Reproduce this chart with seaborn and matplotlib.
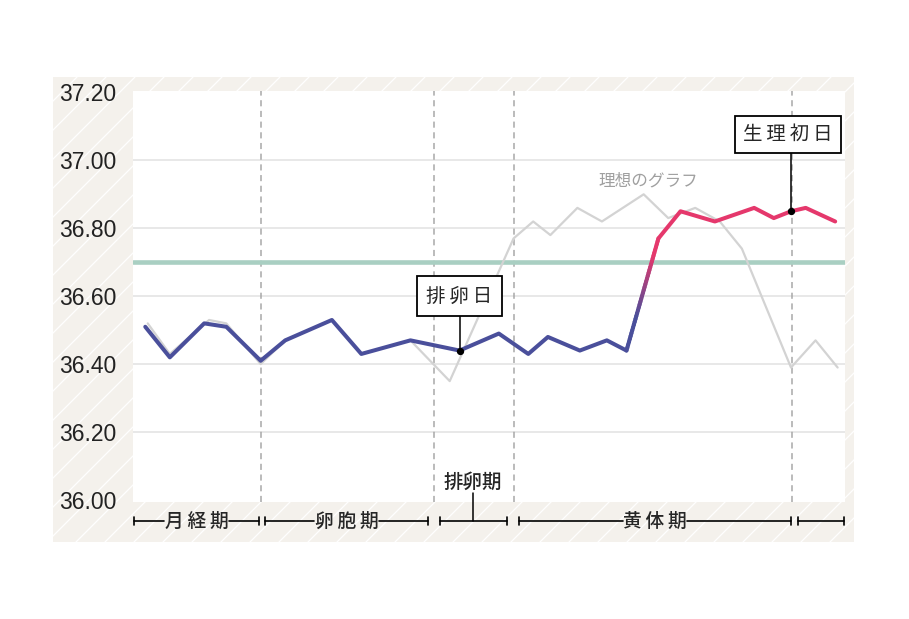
import numpy as np
import pandas as pd
import matplotlib
matplotlib.use("Agg")
import matplotlib.pyplot as plt
import seaborn as sns
from matplotlib.collections import LineCollection
from matplotlib.colors import LinearSegmentedColormap
from matplotlib.patches import Rectangle
from matplotlib.lines import Line2D

# measured basal body temperature (cycle day, deg C)
days = [1.0, 2.0, 3.4, 4.3, 5.7, 6.7, 8.6, 9.8, 11.8, 13.8, 15.4, 16.6, 17.4, 18.7, 19.8, 20.6,
        21.9, 22.8, 24.2, 25.8, 26.6, 27.3, 27.9, 29.1]
temps = [36.51, 36.42, 36.52, 36.51, 36.41, 36.47, 36.53, 36.43, 36.47, 36.44, 36.49, 36.43,
         36.48, 36.44, 36.47, 36.44, 36.77, 36.85, 36.82, 36.86, 36.83, 36.85, 36.86, 36.82]
n_low = 16          # points in the low temperature phase
ovulation_idx = 9   # 排卵日
period_idx = 21     # 生理初日

# ideal curve (理想のグラフ)
ideal_days = [1.1, 2.0, 3.6, 4.3, 5.7, 6.7, 8.6, 9.8, 11.8, 13.4, 16.0, 16.8, 17.5, 18.6, 19.6,
              21.3, 22.3, 23.4, 24.4, 25.3, 27.3, 28.3, 29.2]
ideal_temps = [36.52, 36.43, 36.53, 36.52, 36.40, 36.47, 36.53, 36.43, 36.47, 36.35, 36.77, 36.82,
               36.78, 36.86, 36.82, 36.90, 36.83, 36.86, 36.82, 36.74, 36.39, 36.47, 36.39]

border_temp = 36.70
yticks = [36.00, 36.20, 36.40, 36.60, 36.80, 37.00, 37.20]
phase_bounds = [5.7, 12.75, 16.0, 27.35]
phase_names = ['月\u2009経\u2009期', '卵\u2009胞\u2009期', '排卵期', '黄\u2009体\u2009期', '']
phase_spans = [(0.56, 5.62), (5.88, 12.52), (12.99, 15.73), (16.22, 27.30), (27.58, 29.47)]

blue = '#4a4f9b'
pink = '#e5386c'

sns.set_style("white")
plt.rcParams['font.family'] = ['Liberation Sans', 'DejaVu Sans']
jp = ['Noto Sans CJK JP', 'DejaVu Sans']

W, H = 909, 619
fig = plt.figure(figsize=(W / 100, H / 100), dpi=100)
fig.patch.set_facecolor('white')
ax = fig.add_axes([133 / W, 1 - 501.7 / H, 712 / W, 411 / H])
ax.set_facecolor('white')

# beige panel with thin diagonal stripes
panel = Rectangle((53 / W, 1 - 542 / H), 801 / W, 465 / H, transform=fig.transFigure,
                  facecolor='#f4f1ec', edgecolor='none', zorder=-2)
fig.add_artist(panel)
for off in np.arange(-470, 810, 29):
    x0 = 53 + off
    ln = Line2D([x0 / W, (x0 + 465) / W], [1 - 542 / H, 1 - 77 / H], transform=fig.transFigure,
                color='white', lw=0.9, zorder=-1)
    ln.set_clip_path(panel)
    fig.add_artist(ln)

ax.set_xlim(0.5, 29.5)
ax.set_ylim(35.995, 37.205)

for t in yticks[1:-1]:
    ax.axhline(t, color='#e4e4e4', lw=1.2, zorder=0)
for b in phase_bounds:
    ax.axvline(b, color='#a8a8a8', lw=1.1, ls=(0, (4, 3)), zorder=1)
ax.axhline(border_temp, color='#a9cfc2', lw=3.3, zorder=2)

ideal = pd.DataFrame({'day': ideal_days, 'temp': ideal_temps})
sns.lineplot(data=ideal, x='day', y='temp', color='#d3d3d3', lw=1.6, ax=ax, zorder=3)

bbt = pd.DataFrame({'day': days, 'temp': temps})
low = bbt.iloc[:n_low]
high = bbt.iloc[n_low:]
sns.lineplot(data=low, x='day', y='temp', color=blue, lw=2.9, ax=ax, zorder=4,
             solid_joinstyle='round', solid_capstyle='round')
sns.lineplot(data=high, x='day', y='temp', color=pink, lw=2.9, ax=ax, zorder=4,
             solid_joinstyle='round', solid_capstyle='round')

# colour gradient on the jump between the two phases
x0, y0 = days[n_low - 1], temps[n_low - 1]
x1, y1 = days[n_low], temps[n_low]
fr = np.linspace(0, 1, 40)
px = x0 + (x1 - x0) * fr
py = y0 + (y1 - y0) * fr
segs = np.stack([np.column_stack([px[:-1], py[:-1]]), np.column_stack([px[1:], py[1:]])], axis=1)
cmap = LinearSegmentedColormap.from_list('bp', [(0, blue), (0.3, blue), (0.85, pink), (1, pink)])
lc = LineCollection(segs, colors=cmap(fr[:-1]), lw=2.9, capstyle='round', zorder=4)
ax.add_collection(lc)

# callouts
box = dict(boxstyle='square,pad=0.5', fc='white', ec='black', lw=1.3)
ox, oy = days[ovulation_idx], temps[ovulation_idx]
ax.plot([ox, ox], [oy, 36.60], color='black', lw=1.1, zorder=5)
ax.scatter([ox], [oy], s=18, color='black', zorder=6)
ax.text(ox, 36.60, '排\u2009卵\u2009日', ha='center', va='center', fontsize=14, family=jp,
        bbox=box, zorder=7)

qx, qy = days[period_idx], temps[period_idx]
ax.plot([qx, qx], [qy, 37.07], color='black', lw=1.1, zorder=5)
ax.scatter([qx], [qy], s=18, color='black', zorder=6)
ax.text(qx - 0.12, 37.076, '生\u2009理\u2009初\u2009日', ha='center', va='center', fontsize=14,
        family=jp, bbox=dict(box, boxstyle='square,pad=0.42'), zorder=7)

ax.text(21.5, 36.94, '理想のグラフ', ha='center', va='center', fontsize=12, color='#a0a0a0',
        family=jp, zorder=5)

# phase brackets under the plot
trans = ax.get_xaxis_transform()
yb, tk, gap = -0.047, 0.009, 1.32
for (s, e), name in zip(phase_spans, phase_names):
    for xe in (s, e):
        ax.plot([xe, xe], [yb - tk, yb + tk], transform=trans, clip_on=False, color='black', lw=1.2)
    mid = (s + e) / 2
    if name and name != '排卵期':
        ax.plot([s, mid - gap], [yb, yb], transform=trans, clip_on=False, color='black', lw=1.2)
        ax.plot([mid + gap, e], [yb, yb], transform=trans, clip_on=False, color='black', lw=1.2)
        ax.text(mid, yb, name, transform=trans, ha='center', va='center', fontsize=13.5,
                family=jp, fontweight='medium')
    else:
        ax.plot([s, e], [yb, yb], transform=trans, clip_on=False, color='black', lw=1.2)
        if name:
            ax.plot([mid, mid], [yb, 0.021], transform=trans, clip_on=False, color='black', lw=1.1)
            ax.text(mid, 0.046, name, transform=trans, ha='center', va='center', fontsize=14,
                    family=jp, fontweight='medium')

ax.set_yticks(yticks)
ax.set_yticklabels(['%.2f' % t for t in yticks])
ax.set_xticks([])
ax.set_xlabel('')
ax.set_ylabel('')
ax.tick_params(axis='y', length=0, pad=12, labelsize=16.5, labelcolor='#222222')
sns.despine(ax=ax, left=True, bottom=True)

fig.savefig('out.png', dpi=100)
